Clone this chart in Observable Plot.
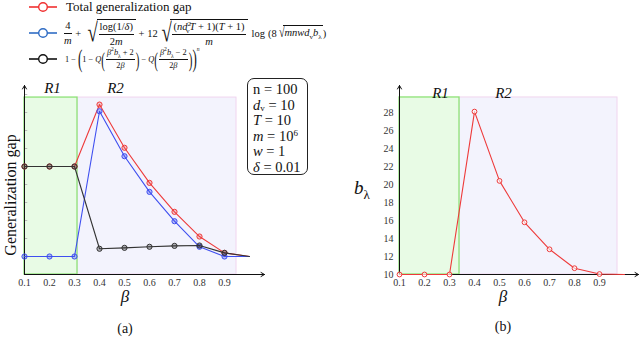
<!DOCTYPE html>
<html><head><meta charset="utf-8">
<script src="https://cdn.jsdelivr.net/npm/d3@7"></script>
<script src="https://cdn.jsdelivr.net/npm/@observablehq/plot@0.6"></script>
<style>
body{margin:0;background:#fff;}
#root{position:relative;width:640px;height:357px;overflow:hidden;font-family:"Liberation Serif","DejaVu Serif",serif;color:#111;}
#root svg, #root svg text{font-family:"Liberation Serif","DejaVu Serif",serif !important;}
.abs{position:absolute;white-space:nowrap;}
.row{position:absolute;display:flex;align-items:center;white-space:nowrap;}
.fx{display:inline-flex;align-items:center;white-space:nowrap;}
.frac{display:inline-flex;flex-direction:column;text-align:center;line-height:1.12;margin:0 1px;}
.frac .num{border-bottom:0.8px solid currentColor;padding:0 1px 1px;}
.frac .den{padding-top:1px;}
.op{padding:0 0.25em;}
.rad{display:inline-flex;align-items:stretch;}
.rad .sign{display:inline-block;align-self:center;transform:scale(0.75,1.05);transform-origin:right center;margin-right:-1px;}
.rad .body{border-top:0.8px solid currentColor;padding:1px 1px 0 1px;}
sub,sup{font-size:68%;line-height:0;}
.big{display:inline-block;transform:scaleY(1.9);}
i{font-style:italic;}
#box{position:absolute;left:247px;top:78px;width:61px;height:97px;box-sizing:border-box;border:1px solid #222;border-radius:7px;padding:3px 2px 0 5px;font-size:14.5px;}
#box div{height:15.6px;line-height:15.6px;}
#box sub{vertical-align:-1px;font-size:62%;}
#box sup{vertical-align:5px;font-size:62%;}
</style>
</head><body><div id="root"></div>
<script>
// ---- data ----
const beta = [0.1, 0.2, 0.3, 0.4, 0.5, 0.6, 0.7, 0.8, 0.9, 1.0];
const totalGap = [6.0, 6.0, 6.0, 9.44, 7.04, 5.09, 3.48, 2.11, 1.2, 1.0];
const boundGap = [1.0, 1.0, 1.0, 9.07, 6.57, 4.59, 2.96, 1.54, 1.0, 1.0];
const probGap  = [6.0, 6.0, 6.0, 1.43, 1.48, 1.54, 1.59, 1.61, 1.2, 1.0];
const bLambda  = [10, 10, 10, 28.1, 20.4, 15.8, 12.8, 10.7, 10.05, 10.0];
const betaTicks = [0.1, 0.2, 0.3, 0.4, 0.5, 0.6, 0.7, 0.8, 0.9];
const betaTickLabels = ["0.1","0.2","0.3","0.4","0.5","0.6","0.7","0.8","0.9"];
const gapTicks = [1, 2, 3, 4, 5, 6, 7, 8, 9, 10];
const bTicks = [10, 12, 14, 16, 18, 20, 22, 24, 26, 28];
const regionNames = ["R1", "R2"];
const regionEdgesA = [0.1, 0.312, 0.948];
const regionEdgesB = [0.1, 0.34, 0.972];
const regionTopA = 9.83, regionTopB = 29.67;
const xDomainA = [0.1, 1.06], yDomainA = [0, 10.5];
const xDomainB = [0.1, 1.056], yDomainB = [10, 31];
const labelXA = [0.212, 0.464], labelYA = 10.33;
const labelXB = [0.264, 0.516], labelYB = 30.15;

const rows = beta.map((b, i) => ({beta: b, total: totalGap[i], bound: boundGap[i], prob: probGap[i], bl: bLambda[i]}));
const markerRows = rows.filter(d => d.beta < 0.95);
const RED = "#ee3a3a", BLUE = "#3f4ff0", BLACK = "#333";
const FONT = "Liberation Serif, DejaVu Serif, serif";
const fmt = d => betaTickLabels[betaTicks.indexOf(d)] ?? "";

function regions(edges, top, bottom) {
  return [[{x1: edges[1], x2: edges[2], y1: bottom, y2: top}], [{x1: edges[0], x2: edges[1], y1: bottom, y2: top}]];
}

// ---- panel (a) ----
const [a2, a1] = regions(regionEdgesA, regionTopA, yDomainA[0]);
const plotA = Plot.plot({
  width: 330, height: 287, marginLeft: 24, marginRight: 66, marginTop: 15, marginBottom: 83,
  x: {domain: xDomainA, axis: null}, y: {domain: yDomainA, axis: null},
  style: {fontFamily: FONT, fontSize: "10px", background: "transparent", overflow: "visible", color: "#333"},
  marks: [
    Plot.rect(a2, {x1: "x1", x2: "x2", y1: "y1", y2: "y2", fill: "#f3f3fd", stroke: "#f0d4ef", strokeWidth: 1}),
    Plot.rect(a1, {x1: "x1", x2: "x2", y1: "y1", y2: "y2", fill: "#e8fbe5", stroke: "#8ee277", strokeWidth: 1.3}),
    Plot.ruleY(gapTicks, {y: d => d, x1: () => 0.1, x2: () => 0.113, stroke: "#aaa", strokeWidth: 0.8}),
    Plot.axisX({ticks: betaTicks, tickFormat: fmt, tickSize: 0, tickPadding: 4, fill: "#333", fontFamily: FONT}),
    Plot.arrow([{x1: xDomainA[0], y1: yDomainA[0], x2: xDomainA[1], y2: yDomainA[0]}], {x1: "x1", y1: "y1", x2: "x2", y2: "y2", stroke: "#111", strokeWidth: 1, headLength: 6}),
    Plot.arrow([{x1: xDomainA[0], y1: yDomainA[0], x2: xDomainA[0], y2: yDomainA[1]}], {x1: "x1", y1: "y1", x2: "x2", y2: "y2", stroke: "#111", strokeWidth: 1, headLength: 6}),
    Plot.text(regionNames, {x: (d, i) => labelXA[i], y: () => labelYA, text: d => d, fontStyle: "italic", fontSize: 15, fill: "#111", fontFamily: FONT}),
    Plot.line(rows, {x: "beta", y: "total", stroke: RED, strokeWidth: 1.1}),
    Plot.dot(markerRows, {x: "beta", y: "total", r: 2.6, stroke: RED, fill: RED, fillOpacity: 0.25, strokeWidth: 1}),
    Plot.line(rows, {x: "beta", y: "bound", stroke: BLUE, strokeWidth: 1.1}),
    Plot.dot(markerRows, {x: "beta", y: "bound", r: 2.6, stroke: BLUE, fill: BLUE, fillOpacity: 0.35, strokeWidth: 1}),
    Plot.line(rows, {x: "beta", y: "prob", stroke: BLACK, strokeWidth: 1.1}),
    Plot.dot(markerRows, {x: "beta", y: "prob", r: 2.6, stroke: BLACK, fill: BLACK, fillOpacity: 0.35, strokeWidth: 1})
  ]
});

// ---- panel (b) ----
const [b2, b1] = regions(regionEdgesB, regionTopB, yDomainB[0]);
const plotB = Plot.plot({
  width: 310, height: 287, marginLeft: 69, marginRight: 2, marginTop: 15, marginBottom: 83,
  x: {domain: xDomainB, axis: null}, y: {domain: yDomainB, axis: null},
  style: {fontFamily: FONT, fontSize: "10px", background: "transparent", overflow: "visible", color: "#333"},
  marks: [
    Plot.rect(b2, {x1: "x1", x2: "x2", y1: "y1", y2: "y2", fill: "#f3f3fd", stroke: "#f0d4ef", strokeWidth: 1}),
    Plot.rect(b1, {x1: "x1", x2: "x2", y1: "y1", y2: "y2", fill: "#e8fbe5", stroke: "#8ee277", strokeWidth: 1.3}),
    Plot.axisX({ticks: betaTicks, tickFormat: fmt, tickSize: 0, tickPadding: 4, fill: "#333", fontFamily: FONT}),
    Plot.axisY({ticks: bTicks, tickFormat: d => String(d), tickSize: 0, tickPadding: 6, fill: "#333", fontFamily: FONT}),
    Plot.arrow([{x1: xDomainB[0], y1: yDomainB[0], x2: xDomainB[1], y2: yDomainB[0]}], {x1: "x1", y1: "y1", x2: "x2", y2: "y2", stroke: "#111", strokeWidth: 1, headLength: 6}),
    Plot.arrow([{x1: xDomainB[0], y1: yDomainB[0], x2: xDomainB[0], y2: yDomainB[1]}], {x1: "x1", y1: "y1", x2: "x2", y2: "y2", stroke: "#111", strokeWidth: 1, headLength: 6}),
    Plot.text(regionNames, {x: (d, i) => labelXB[i], y: () => labelYB, text: d => d, fontStyle: "italic", fontSize: 15, fill: "#111", fontFamily: FONT}),
    Plot.line(rows, {x: "beta", y: "bl", stroke: RED, strokeWidth: 1.1}),
    Plot.dot(markerRows, {x: "beta", y: "bl", r: 2.4, stroke: RED, fill: "white", fillOpacity: 0.6, strokeWidth: 1})
  ]
});

const root = document.getElementById("root");
const wrapA = document.createElement("div");
wrapA.className = "abs"; wrapA.style.left = "0px"; wrapA.style.top = "70px";
wrapA.appendChild(plotA);
const wrapB = document.createElement("div");
wrapB.className = "abs"; wrapB.style.left = "330px"; wrapB.style.top = "70px";
wrapB.appendChild(plotB);
root.appendChild(wrapA); root.appendChild(wrapB);

// ---- legend & text ----
function glyph(color) {
  return `<svg width="30" height="12" style="margin-right:8px;flex:none"><line x1="1" y1="6" x2="29" y2="6" stroke="${color}" stroke-width="1.6"/><circle cx="15" cy="6" r="4.3" fill="white" stroke="${color}" stroke-width="1.4"/></svg>`;
}
const html = `
<div class="row" style="left:28px;top:0px;height:13px;font-size:13px;">${glyph("#f03030")}<span>Total generalization gap</span></div>
<div class="row" style="left:28px;top:19px;height:28px;font-size:10.5px;">${glyph("#2f6cc4")}
 <span class="fx" style="margin-left:-3px">
  <span class="frac"><span class="num">4</span><span class="den"><i>m</i></span></span>
  <span class="op">+</span>
  <span class="rad"><span class="sign" style="font-size:25px">√</span><span class="body"><span class="frac"><span class="num">log(1/<i>δ</i>)</span><span class="den">2<i>m</i></span></span></span></span>
  <span class="op">+</span><span>12</span>
  <span class="rad"><span class="sign" style="font-size:25px">√</span><span class="body"><span class="frac"><span class="num">(<i>nd</i><sup>2</sup><sub style="margin-left:-5px">v</sub><i>T</i> + 1)(<i>T</i> + 1)</span><span class="den"><i>m</i></span></span></span></span>
  <span style="margin-left:4px">log</span><span style="margin-left:3px">(8</span><span class="rad"><span class="sign" style="font-size:14px">√</span><span class="body"><i>mnwd</i><sub>v</sub><i>b</i><sub>λ</sub></span></span><span>)</span>
 </span></div>
<div class="row" style="left:28px;top:47px;height:24px;font-size:8.3px;">${glyph("#111")}
 <span class="fx" style="margin-left:-1px">
  <span>1</span><span class="op">−</span><span class="big" style="font-size:13px">(</span><span>1</span><span class="op">−</span><i>Q</i><span class="big" style="font-size:11px">(</span>
  <span class="frac"><span class="num"><i>β</i><sup>2</sup><i>b</i><sub>λ</sub> + 2</span><span class="den">2<i>β</i></span></span>
  <span class="big" style="font-size:11px">)</span><span class="op">−</span><i>Q</i><span class="big" style="font-size:11px">(</span>
  <span class="frac"><span class="num"><i>β</i><sup>2</sup><i>b</i><sub>λ</sub> − 2</span><span class="den">2<i>β</i></span></span>
  <span class="big" style="font-size:11px">)</span><span class="big" style="font-size:13px">)</span><sup style="align-self:flex-start;margin-top:1px"><i>n</i></sup>
 </span></div>
<div id="box">
 <div>n = 100</div>
 <div><i>d</i><sub>v</sub> = 10</div>
 <div><i>T</i> = 10</div>
 <div><i>m</i> = 10<sup>6</sup></div>
 <div><i>w</i> = 1</div>
 <div><i>δ</i> = 0.01</div>
</div>
<div class="abs" style="left:11px;top:195px;font-size:16px;transform:translate(-50%,-50%) rotate(-90deg);">Generalization gap</div>
<div class="abs" style="left:362px;top:188px;font-size:19px;transform:translate(-50%,-50%);"><i>b</i><sub style="font-size:13px">λ</sub></div>
<div class="abs" style="left:125px;top:297px;font-size:17px;transform:translate(-50%,-50%);"><i>β</i></div>
<div class="abs" style="left:503px;top:297px;font-size:17px;transform:translate(-50%,-50%);"><i>β</i></div>
<div class="abs" style="left:125px;top:329px;font-size:14px;transform:translate(-50%,-50%);">(a)</div>
<div class="abs" style="left:503px;top:327px;font-size:14px;transform:translate(-50%,-50%);">(b)</div>
`;
root.insertAdjacentHTML("beforeend", html);
</script>
</body></html>
